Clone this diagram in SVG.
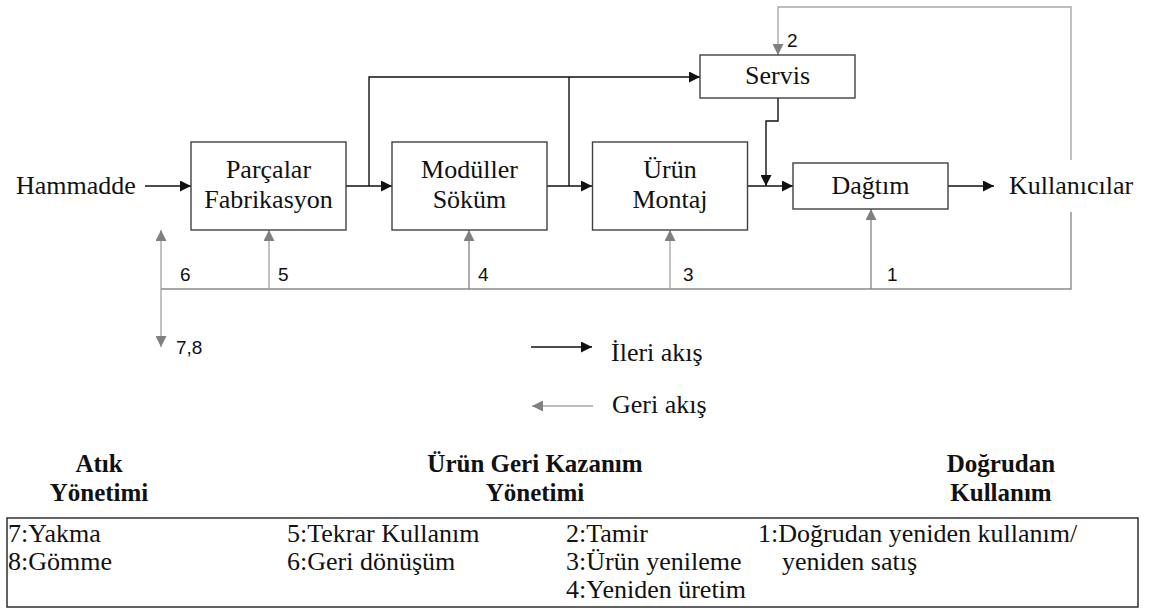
<svg xmlns="http://www.w3.org/2000/svg" width="1149" height="610" viewBox="0 0 1149 610">
<defs>
<style>
.box{fill:#fff;stroke:#404040;stroke-width:1.4}
.t{font-size:26px;fill:#111}
.tc{text-anchor:middle}
.h{font-size:25px;font-weight:bold;fill:#111;text-anchor:middle}
.tb{font-size:26px;fill:#111}
.n{font-size:19px;fill:#111}
.fw{fill:none;stroke:#111;stroke-width:1.4}
.bk{fill:none;stroke:#8a8a8a;stroke-width:1.4}
.bkl{fill:none;stroke:#a8a8a8;stroke-width:1.4}
</style>
<marker id="ab" viewBox="0 0 10 10" refX="10" refY="5" markerWidth="11" markerHeight="11" markerUnits="userSpaceOnUse" orient="auto">
<path d="M0,0 L10,5 L0,10 Z" fill="#111"/>
</marker>
<marker id="ag" viewBox="0 0 10 10" refX="10" refY="5" markerWidth="11" markerHeight="11" markerUnits="userSpaceOnUse" orient="auto">
<path d="M0,0 L10,5 L0,10 Z" fill="#808080"/>
</marker>
</defs>
<rect width="1149" height="610" fill="#fff"/>

<g id="connectors">
<line class="fw" x1="145" y1="186" x2="191" y2="186" marker-end="url(#ab)"/>
<line class="fw" x1="346" y1="186" x2="392" y2="186" marker-end="url(#ab)"/>
<polyline class="fw" points="369,186 369,77 700,77" marker-end="url(#ab)"/>
<line class="fw" x1="547" y1="186" x2="592" y2="186" marker-end="url(#ab)"/>
<polyline class="fw" points="569,186 569,77"/>
<line class="fw" x1="747" y1="186" x2="793" y2="186" marker-end="url(#ab)"/>
<polyline class="fw" points="778,98 778,121 766,121 766,186" marker-end="url(#ab)"/>
<line class="fw" x1="948" y1="186" x2="994" y2="186" marker-end="url(#ab)"/>
<polyline class="bkl" points="1071,160 1071,7 778,7 778,55" marker-end="url(#ag)"/>
<polyline class="bk" points="1071,212 1071,289 161,289"/>
<line class="bkl" x1="161" y1="289" x2="161" y2="230" marker-end="url(#ag)"/>
<line class="bkl" x1="161" y1="289" x2="161" y2="347" marker-end="url(#ag)"/>
<line class="bkl" x1="269" y1="289" x2="269" y2="230" marker-end="url(#ag)"/>
<line class="bk" x1="469" y1="289" x2="469" y2="230" marker-end="url(#ag)"/>
<line class="bkl" x1="670" y1="289" x2="670" y2="230" marker-end="url(#ag)"/>
<line class="bk" x1="871" y1="289" x2="871" y2="209" marker-end="url(#ag)"/>
<line class="fw" x1="531" y1="347" x2="592" y2="347" marker-end="url(#ab)"/>
<line class="bkl" x1="593" y1="406" x2="532" y2="406" marker-end="url(#ag)"/>
</g>

<g font-family="'Liberation Serif', 'Times New Roman', Times, serif">
<g id="hammadde"><text class="t" x="16" y="194">Hammadde</text></g>
<g id="parcalar">
<rect class="box" x="191" y="142" width="155" height="88"/>
<text class="t tc" x="268.5" y="178">Parçalar</text>
<text class="t tc" x="268.5" y="208">Fabrikasyon</text>
</g>
<g id="moduller">
<rect class="box" x="392" y="142" width="155" height="88"/>
<text class="t tc" x="469.5" y="178">Modüller</text>
<text class="t tc" x="469.5" y="208">Söküm</text>
</g>
<g id="urun">
<rect class="box" x="592.5" y="142" width="155" height="88"/>
<text class="t tc" x="670" y="178">Ürün</text>
<text class="t tc" x="670" y="208">Montaj</text>
</g>
<g id="servis">
<rect class="box" x="700" y="55" width="155" height="43"/>
<text class="t tc" x="777.5" y="84">Servis</text>
</g>
<g id="dagtim">
<rect class="box" x="793" y="163" width="155" height="46"/>
<text class="t tc" x="870.5" y="194">Dağtım</text>
</g>
<g id="kullanicilar"><text class="t" x="1009" y="194">Kullanıcılar</text></g>

<g id="legend">
<text class="t" x="611" y="361">İleri akış</text>
<text class="t" x="612" y="413">Geri akış</text>
</g>

<g id="headers">
<text class="h" x="99" y="472">Atık</text>
<text class="h" x="99" y="501">Yönetimi</text>
<text class="h" x="535" y="472">Ürün Geri Kazanım</text>
<text class="h" x="535" y="501">Yönetimi</text>
<text class="h" x="1001" y="472">Doğrudan</text>
<text class="h" x="1001" y="501">Kullanım</text>
</g>

<g id="table">
<rect x="7" y="518" width="1131" height="89" fill="none" stroke="#222" stroke-width="1.4"/>
<text class="tb" x="8" y="542">7:Yakma</text>
<text class="tb" x="8" y="570">8:Gömme</text>
<text class="tb" x="287" y="542">5:Tekrar Kullanım</text>
<text class="tb" x="287" y="570">6:Geri dönüşüm</text>
<text class="tb" x="566" y="542">2:Tamir</text>
<text class="tb" x="566" y="570">3:Ürün yenileme</text>
<text class="tb" x="566" y="598">4:Yeniden üretim</text>
<text class="tb" x="758" y="542">1:Doğrudan yeniden kullanım/</text>
<text class="tb" x="782" y="570">yeniden satış</text>
</g>
</g>

<g id="labels" font-family="'Liberation Sans', Arial, sans-serif">
<text class="n" x="180" y="281">6</text>
<text class="n" x="278" y="281">5</text>
<text class="n" x="478" y="281">4</text>
<text class="n" x="683" y="281">3</text>
<text class="n" x="887" y="281">1</text>
<text class="n" x="787" y="47">2</text>
<text class="n" x="176" y="354">7,8</text>
</g>
</svg>
